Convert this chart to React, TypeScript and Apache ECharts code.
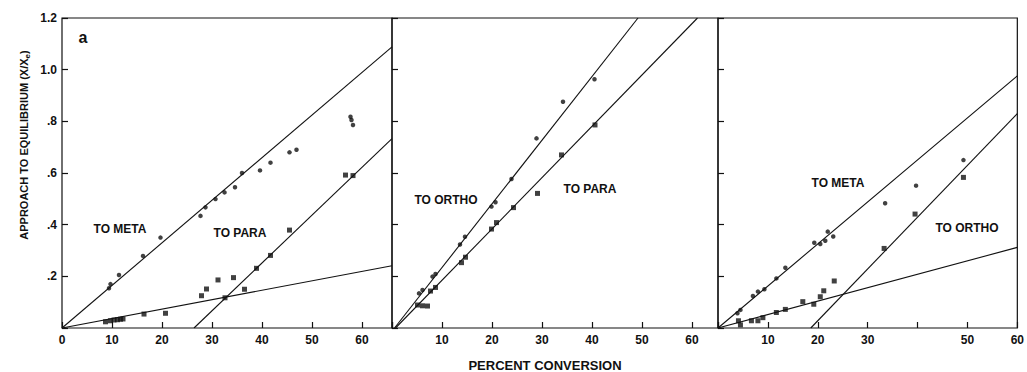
import React, { useEffect, useRef } from "react";
import * as echarts from "echarts";

// ---- data ----
const leftMeta = [[9.4,0.154],[9.7,0.17],[11.4,0.205],[16.2,0.279],[19.7,0.35],[27.7,0.434],[28.7,0.467],[30.7,0.499],[32.5,0.525],[34.6,0.545],[36,0.6],[39.6,0.61],[41.7,0.64],[45.5,0.68],[46.9,0.69],[57.7,0.818],[57.9,0.805],[58.2,0.786]];
const leftPara = [[8.7,0.024],[9.7,0.028],[10.4,0.031],[11.1,0.032],[11.7,0.034],[12.2,0.035],[16.4,0.054],[20.7,0.057],[27.9,0.125],[28.9,0.151],[31.2,0.186],[32.6,0.117],[34.3,0.195],[36.5,0.15],[38.9,0.231],[41.7,0.281],[45.5,0.379],[56.7,0.592],[58.2,0.59]];
const leftMetaFit = [[0,0],[66,1.088]];
const leftParaFit = [[26.4,0],[66,0.733]];
const leftLowFit = [[0,0],[66,0.241]];

const midOrtho = [[5.4,0.134],[6.1,0.147],[8.1,0.199],[8.7,0.209],[13.6,0.323],[14.6,0.353],[19.9,0.47],[20.7,0.487],[23.9,0.577],[28.9,0.734],[34.2,0.876],[40.5,0.963]];
const midPara = [[5.1,0.089],[6.1,0.086],[7.1,0.085],[7.7,0.143],[8.7,0.157],[13.9,0.253],[14.7,0.274],[19.9,0.383],[20.9,0.408],[24.3,0.466],[29.1,0.521],[33.9,0.67],[40.6,0.786]];
const midOrthoFit = [[0.5,0],[49.2,1.2]];
const midParaFit = [[0.7,0],[61.1,1.2]];

const rightMeta = [[3.9,0.057],[4.5,0.07],[7.0,0.124],[8.0,0.141],[9.3,0.15],[11.7,0.192],[13.5,0.233],[19.3,0.33],[20.5,0.325],[21.5,0.338],[22,0.373],[23.1,0.354],[33.5,0.483],[39.7,0.551],[49.2,0.65]];
const rightOrtho = [[4.1,0.028],[4.5,0.012],[6.7,0.028],[8,0.028],[9,0.04],[11.7,0.06],[13.5,0.072],[17,0.102],[19.2,0.092],[20.5,0.121],[21.2,0.144],[23.3,0.182],[33.3,0.308],[39.5,0.441],[49.2,0.583]];
const rightMetaFit = [[0,0],[60,0.976]];
const rightOrthoFit = [[18.6,0],[60,0.83]];
const rightLowFit = [[0,0],[60,0.312]];

const leftXLabels = [0, 10, 20, 30, 40, 50, 60];
const midXLabels = [10, 20, 30, 40, 50, 60];
const rightXLabels = [10, 20, 30, 50, 60];
const yLabels = [0.2, 0.4, 0.6, 0.8, 1.0, 1.2];

const FONT = '"Liberation Sans", Arial, Helvetica, sans-serif';
const INK = "#111";

function fmtY(v: number): string {
  const hit = yLabels.find((t) => Math.abs(t - v) < 1e-6);
  if (hit === undefined) return "";
  const s = hit.toFixed(1);
  return s.startsWith("0") ? s.slice(1) : s;
}

function xAxis(gridIndex: number, max: number, labels: number[]) {
  return {
    type: "value",
    gridIndex,
    min: 0,
    max,
    interval: 10,
    splitLine: { show: false },
    axisLine: { show: false },
    axisTick: { show: true, inside: true, length: 6, lineStyle: { color: INK, width: 1.2 } },
    axisLabel: {
      show: true,
      margin: 6,
      color: INK,
      fontFamily: FONT,
      fontWeight: "bold",
      fontSize: 12,
      showMaxLabel: true,
      showMinLabel: true,
      formatter: (v: number) => (labels.some((l) => Math.abs(l - v) < 1e-6) ? String(Math.round(v)) : ""),
    },
  };
}

function yAxis(gridIndex: number, showLabels: boolean) {
  return {
    type: "value",
    gridIndex,
    min: 0,
    max: 1.2,
    interval: 0.2,
    splitLine: { show: false },
    axisLine: { show: false },
    axisTick: { show: true, inside: true, length: 6, lineStyle: { color: INK, width: 1.2 } },
    axisLabel: {
      show: showLabels,
      margin: 5,
      color: INK,
      fontFamily: FONT,
      fontWeight: "bold",
      fontSize: 12,
      formatter: (v: number) => fmtY(v),
    },
  };
}

function dots(idx: number, data: number[][]) {
  return {
    type: "scatter",
    xAxisIndex: idx,
    yAxisIndex: idx,
    data,
    symbol: "circle",
    symbolSize: 4.5,
    itemStyle: { color: INK },
    silent: true,
  };
}
function squares(idx: number, data: number[][]) {
  return {
    type: "scatter",
    xAxisIndex: idx,
    yAxisIndex: idx,
    data,
    symbol: "rect",
    symbolSize: 5,
    itemStyle: { color: INK },
    silent: true,
  };
}
function fit(idx: number, data: number[][]) {
  return {
    type: "line",
    xAxisIndex: idx,
    yAxisIndex: idx,
    data,
    showSymbol: false,
    symbol: "none",
    clip: true,
    lineStyle: { color: INK, width: 1.1 },
    silent: true,
  };
}

function label(text: string, x: number, y: number, size = 12) {
  return {
    type: "text",
    x,
    y,
    style: {
      text,
      fill: INK,
      font: `bold ${size}px ${FONT}`,
      textAlign: "center",
      textVerticalAlign: "middle",
    },
  };
}

export default function App() {
  const ref = useRef<HTMLDivElement>(null);
  useEffect(() => {
    if (!ref.current) return;
    const chart = echarts.init(ref.current, undefined, { renderer: "svg" });
    const gridBase = { top: 18, height: 310, show: true, borderColor: INK, borderWidth: 1.2, backgroundColor: "transparent", containLabel: false };
    chart.setOption({
      animation: false,
      backgroundColor: "#ffffff",
      grid: [
        { ...gridBase, left: 62, width: 330 },
        { ...gridBase, left: 392, width: 326 },
        { ...gridBase, left: 718, width: 300 },
      ],
      xAxis: [xAxis(0, 66, leftXLabels), xAxis(1, 65.2, midXLabels), xAxis(2, 60, rightXLabels)],
      yAxis: [yAxis(0, true), yAxis(1, false), yAxis(2, false)],
      series: [
        fit(0, leftMetaFit),
        fit(0, leftParaFit),
        fit(0, leftLowFit),
        dots(0, leftMeta),
        squares(0, leftPara),
        fit(1, midOrthoFit),
        fit(1, midParaFit),
        dots(1, midOrtho),
        squares(1, midPara),
        fit(2, rightMetaFit),
        fit(2, rightOrthoFit),
        fit(2, rightLowFit),
        dots(2, rightMeta),
        squares(2, rightOrtho),
      ],
      graphic: [
        label("a", 83, 37, 16),
        label("TO META", 120, 229),
        label("TO PARA", 240, 233),
        label("TO ORTHO", 446, 200),
        label("TO PARA", 590, 189),
        label("TO META", 838, 183),
        label("TO ORTHO", 967, 228),
        label("PERCENT CONVERSION", 545, 365, 13),
        {
          type: "text",
          x: 24,
          y: 145,
          rotation: Math.PI / 2,
          style: {
            text: "APPROACH TO EQUILIBRIUM (X/X{e|e})",
            fill: INK,
            font: `bold 11px ${FONT}`,
            textAlign: "center",
            textVerticalAlign: "middle",
            rich: {
              e: { font: `bold 8px ${FONT}`, fill: INK, padding: [6, 0, 0, 0] },
            },
          },
        },
      ],
    });
    return () => chart.dispose();
  }, []);
  return (
    <div
      ref={ref}
      style={{ position: "fixed", left: 0, top: 0, width: 1027, height: 372, background: "#fff" }}
    />
  );
}
